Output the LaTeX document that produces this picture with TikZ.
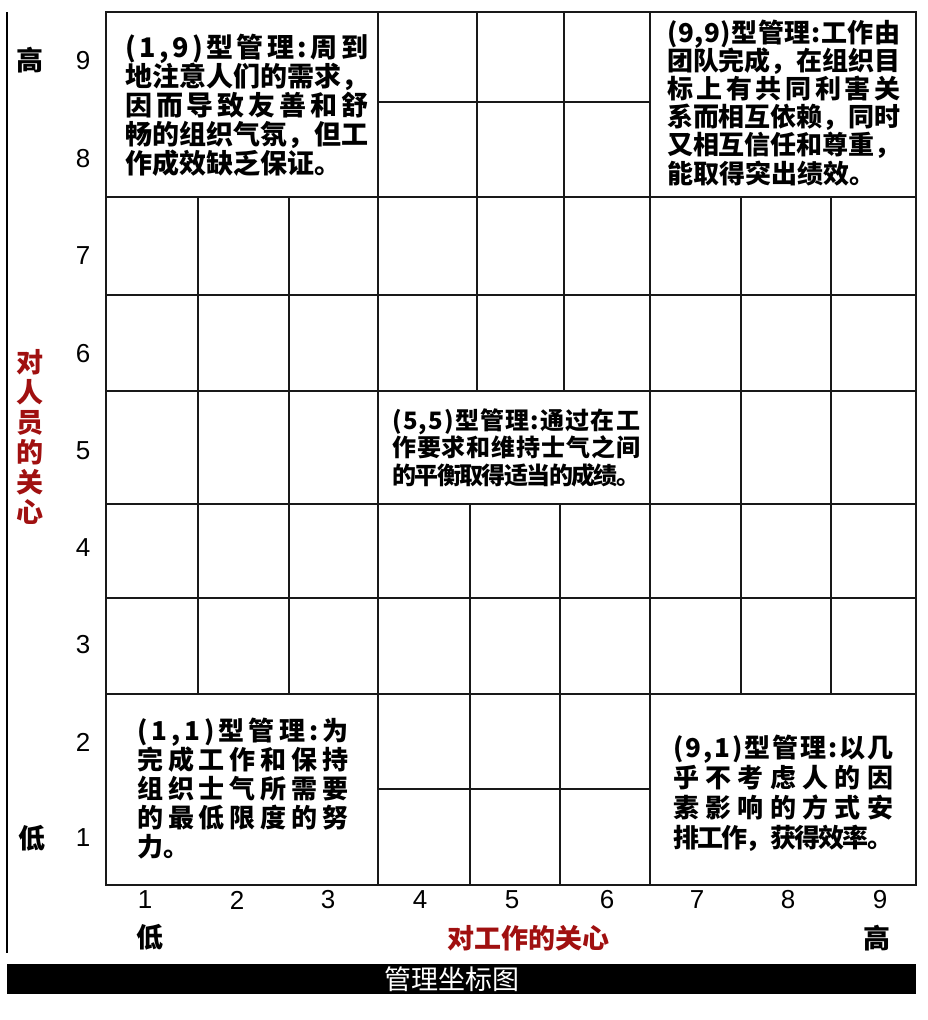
\documentclass[tikz,border=0pt]{standalone}
\usepackage{fontspec}
\setmainfont{Liberation Sans}
\newfontfamily\cjk{Noto Sans CJK SC}
\definecolor{axisred}{RGB}{160,16,16}
\newcommand\cst{\vrule height .88em depth .12em width 0pt}
\makeatletter
\def\jl@first#1{#1\jl@rest}
\def\jl@rest#1{\ifx\relax#1\else\hss#1\expandafter\jl@rest\fi}
\newcommand\jline[2]{\hbox to #1{\cst\jl@first#2\relax}}
\makeatother
\newcommand\nline[1]{\hbox{\cst #1}}
\newcommand\vstack[2]{\vbox{\baselineskip=#1\lineskiplimit=-100pt\lineskip=0pt #2}}
\begin{document}
\begin{tikzpicture}[x=1pt,y=-1pt,
  gridline/.style={line width=1.6pt, black!90},
  boxtext/.style={anchor=north west, inner sep=0pt},
  num/.style={inner sep=0pt, font=\fontsize{26}{26}\selectfont},
  axlab/.style={inner sep=0pt, font=\cjk\bfseries\fontsize{27}{30}\selectfont},
  axred/.style={axlab, text=axisred}]
\useasboundingbox (0,0) rectangle (928,1020);
% left axis line
\draw[line width=1.6pt] (7,12) -- (7,953);
% grid
\draw[gridline] (106,12) rectangle (916,885);
\foreach \y in {197,295,391,504,598,694} \draw[gridline] (106,\y) -- (916,\y);
\draw[gridline] (378,102) -- (650,102);
\draw[gridline] (378,789) -- (650,789);
\foreach \x in {378,650} \draw[gridline] (\x,12) -- (\x,885);
\foreach \x in {198,289,741,831} \draw[gridline] (\x,197) -- (\x,694);
\foreach \x in {477,564} \draw[gridline] (\x,12) -- (\x,391);
\foreach \x in {470,560} \draw[gridline] (\x,504) -- (\x,885);
% box texts
\node[boxtext, font=\cjk\bfseries\fontsize{27}{29}\selectfont] (t19) at (125,33.5) {\vstack{29pt}{%
  \jline{243pt}{(1,9)型管理:周到}
  \jline{243pt}{地注意人们的需求，}
  \jline{243pt}{因而导致友善和舒}
  \jline{243pt}{畅的组织气氛，但工}
  \nline{作成效缺乏保证。}}};
\node[boxtext, font=\cjk\bfseries\fontsize{26}{28}\selectfont] (t99) at (667,19) {\vstack{28.2pt}{%
  \jline{233pt}{(9,9)型管理:工作由}
  \jline{233pt}{团队完成，在组织目}
  \jline{233pt}{标上有共同利害关}
  \jline{233pt}{系而相互依赖，同时}
  \jline{233pt}{又相互信任和尊重，}
  \nline{能取得突出绩效。}}};
\node[boxtext, font=\cjk\bfseries\fontsize{24}{27}\selectfont] (t55) at (392,408) {\vstack{27.5pt}{%
  \jline{248pt}{(5,5)型管理:通过在工}
  \jline{248pt}{作要求和维持士气之间}
  \jline{248pt}{的平衡取得适当的成绩。}}};
\node[boxtext, font=\cjk\bfseries\fontsize{26}{29}\selectfont] (t11) at (137,717) {\vstack{29pt}{%
  \jline{211pt}{(1,1)型管理:为}
  \jline{211pt}{完成工作和保持}
  \jline{211pt}{组织士气所需要}
  \jline{211pt}{的最低限度的努}
  \nline{力。}}};
\node[boxtext, font=\cjk\bfseries\fontsize{26}{30}\selectfont] (t91) at (673,734) {\vstack{30pt}{%
  \jline{220pt}{(9,1)型管理:以几}
  \jline{220pt}{乎不考虑人的因}
  \jline{220pt}{素影响的方式安}
  \jline{220pt}{排工作，获得效率。}}};
% row numbers
\foreach \n/\y in {9/61,8/159,7/256,6/354,5/451,4/548,3/645,2/742,1/838}
  \node[num] (r\n) at (83,\y) {\n};
% column numbers
\foreach \n/\x in {1/145,2/237,3/328,4/420,5/512,6/607,7/697,8/788,9/880}
  \node[num] (c\n) at (\x,900) {\n};
% axis labels
\node[axlab] (yhigh) at (30,60) {\cst 高};
\node[axlab] (ylow) at (32,838) {\cst 低};
\node[axred] (ylab) at (30,437) {\vstack{30pt}{\nline{对}\nline{人}\nline{员}\nline{的}\nline{关}\nline{心}}};
\node[axlab] (xlow) at (150,937) {\cst 低};
\node[axred] (xlab) at (528,938) {\cst 对工作的关心};
\node[axlab] (xhigh) at (877,938) {\cst 高};
% title bar
\fill (7,964) rectangle (916,994);
\node[inner sep=0pt, text=white, font=\cjk\fontsize{27}{27}\selectfont] (title) at (452,979) {\cst 管理坐标图};
\end{tikzpicture}
\end{document}
